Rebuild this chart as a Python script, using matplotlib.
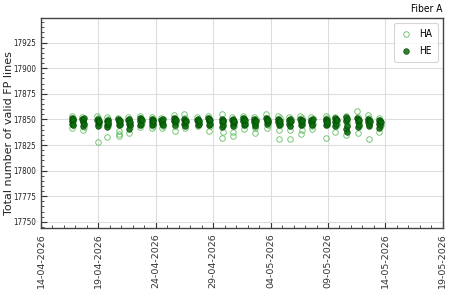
import matplotlib
matplotlib.use("Agg")
import matplotlib.pyplot as plt
import matplotlib.dates as mdates
from matplotlib import font_manager
import pandas as pd

# cluster centre times (one observing block per day)
cluster_times = [
    "2026-04-16 18:00", "2026-04-17 16:20", "2026-04-18 23:45", "2026-04-19 19:10",
    "2026-04-20 19:30", "2026-04-21 16:20", "2026-04-22 16:20", "2026-04-23 17:15",
    "2026-04-24 13:30", "2026-04-25 15:50", "2026-04-26 12:45", "2026-04-27 16:30",
    "2026-04-28 15:35", "2026-04-29 19:25", "2026-04-30 17:45", "2026-05-01 16:30",
    "2026-05-02 15:10", "2026-05-03 16:50", "2026-05-04 17:45", "2026-05-05 16:05",
    "2026-05-06 16:30", "2026-05-07 14:10", "2026-05-08 20:50", "2026-05-09 16:05",
    "2026-05-10 14:40", "2026-05-11 14:55", "2026-05-12 13:10", "2026-05-13 12:00",
]
# hour offsets of the exposures inside each block
exposure_hours = [-2.0, -1.2, -0.4, 0.4, 1.2, 2.0]

he_values = [
    [17851, 17848, 17846, 17849, 17845, 17850],
    [17850, 17847, 17844, 17849, 17846, 17851],
    [17849, 17846, 17844, 17850, 17847, 17848],
    [17848, 17845, 17843, 17849, 17846, 17847],
    [17850, 17847, 17845, 17849, 17846, 17848],
    [17849, 17846, 17841, 17850, 17845, 17847],
    [17851, 17848, 17845, 17850, 17846, 17849],
    [17850, 17847, 17845, 17849, 17846, 17848],
    [17849, 17847, 17846, 17848, 17845, 17850],
    [17851, 17848, 17845, 17850, 17847, 17849],
    [17850, 17846, 17844, 17849, 17847, 17848],
    [17849, 17847, 17845, 17850, 17846, 17848],
    [17851, 17848, 17845, 17850, 17846, 17849],
    [17850, 17847, 17843, 17849, 17845, 17848],
    [17849, 17846, 17844, 17850, 17847, 17848],
    [17851, 17848, 17845, 17850, 17846, 17849],
    [17850, 17847, 17844, 17849, 17846, 17848],
    [17851, 17848, 17846, 17850, 17847, 17849],
    [17850, 17847, 17845, 17849, 17846, 17848],
    [17849, 17846, 17844, 17850, 17847, 17848],
    [17850, 17847, 17845, 17849, 17846, 17848],
    [17849, 17847, 17846, 17848, 17845, 17850],
    [17850, 17848, 17845, 17849, 17846, 17847],
    [17851, 17847, 17844, 17850, 17846, 17849],
    [17852, 17848, 17841, 17850, 17844, 17838],
    [17851, 17847, 17843, 17850, 17845, 17849],
    [17850, 17847, 17844, 17849, 17846, 17848],
    [17849, 17846, 17842, 17848, 17845, 17847],
]
ha_values = [
    [17853, 17849, 17842, 17851, 17845, 17848],
    [17852, 17848, 17840, 17850, 17843, 17846],
    [17853, 17849, 17828, 17851, 17845, 17847],
    [17852, 17848, 17833, 17850, 17844, 17846],
    [17851, 17836, 17834, 17839, 17845, 17849],
    [17852, 17848, 17837, 17850, 17843, 17846],
    [17853, 17849, 17843, 17851, 17845, 17847],
    [17852, 17848, 17842, 17850, 17844, 17846],
    [17851, 17847, 17842, 17850, 17844, 17846],
    [17854, 17849, 17839, 17851, 17844, 17847],
    [17855, 17849, 17842, 17851, 17845, 17847],
    [17852, 17848, 17844, 17850, 17846, 17848],
    [17853, 17848, 17839, 17851, 17844, 17846],
    [17855, 17849, 17832, 17838, 17844, 17847],
    [17852, 17848, 17834, 17838, 17844, 17846],
    [17853, 17849, 17841, 17851, 17845, 17847],
    [17852, 17848, 17837, 17842, 17845, 17850],
    [17855, 17849, 17842, 17851, 17845, 17847],
    [17853, 17849, 17831, 17840, 17845, 17851],
    [17852, 17848, 17831, 17840, 17844, 17850],
    [17853, 17849, 17836, 17840, 17845, 17851],
    [17852, 17848, 17841, 17850, 17844, 17846],
    [17853, 17849, 17832, 17851, 17845, 17847],
    [17852, 17848, 17838, 17850, 17844, 17846],
    [17853, 17849, 17835, 17851, 17845, 17847],
    [17858, 17849, 17837, 17852, 17844, 17847],
    [17854, 17849, 17831, 17851, 17845, 17847],
    [17851, 17847, 17838, 17849, 17843, 17845],
]

x_limits = ("2026-04-14", "2026-05-19")
y_limits = (17744, 17949)

def expand(times, values):
    xs, ys = [], []
    for t, vals in zip(times, values):
        base = pd.Timestamp(t)
        for h, v in zip(exposure_hours, vals):
            xs.append(base + pd.Timedelta(hours=h))
            ys.append(v)
    return xs, ys

ha_x, ha_y = expand(cluster_times, ha_values)
he_x, he_y = expand(cluster_times, he_values)

# narrow font for tick numbers, title and legend
narrow_prop = font_manager.FontProperties(family="DejaVu Sans", stretch="condensed", size=7.3)
ytick_prop = font_manager.FontProperties(family="DejaVu Sans", stretch="condensed", size=5.8)

fig = plt.figure(figsize=(4.5, 3.0), dpi=100)
ax = fig.add_axes([0.091, 0.24, 0.893, 0.70])

ax.plot(ha_x, ha_y, linestyle="none", marker="o", markersize=4.0,
        markerfacecolor="none", markeredgecolor="#55b855", markeredgewidth=0.7,
        alpha=0.8, label="HA")
ax.plot(he_x, he_y, linestyle="none", marker="o", markersize=4.0,
        markerfacecolor="#0b6e0b", markeredgecolor="#064a06", markeredgewidth=0.6,
        alpha=0.85, label="HE")

ax.set_xlim(pd.Timestamp(x_limits[0]), pd.Timestamp(x_limits[1]))
ax.set_ylim(*y_limits)
ax.xaxis.set_major_locator(mdates.DayLocator(bymonthday=[4, 9, 14, 19, 24, 29]))
ax.xaxis.set_major_formatter(mdates.DateFormatter("%d-%m-%Y"))
ax.xaxis.set_minor_locator(mdates.DayLocator())
ax.yaxis.set_major_locator(matplotlib.ticker.MultipleLocator(25))
ax.yaxis.set_minor_locator(matplotlib.ticker.MultipleLocator(5))

ax.grid(True, which="major", color="#dddddd", linewidth=0.8)
ax.set_axisbelow(True)
for s in ax.spines.values():
    s.set_color("#444444")
    s.set_linewidth(1.0)

ax.tick_params(axis="x", which="both", direction="in", labelsize=6.8, rotation=90,
               colors="#333333", labelcolor="#333333")
ax.tick_params(axis="y", which="both", direction="in", colors="#333333",
               labelcolor="#222222", pad=3.5)
ax.tick_params(which="major", length=4)
ax.tick_params(which="minor", length=2)
for lab in ax.get_yticklabels():
    lab.set_fontproperties(ytick_prop)

ax.set_ylabel("Total number of valid FP lines", fontsize=8.0, color="#222222")
ax.yaxis.set_label_coords(-0.066, 0.45)
ax.set_title("Fiber A", loc="right", fontproperties=narrow_prop, pad=4)

leg = ax.legend(loc="upper right", frameon=True, prop=narrow_prop, borderpad=0.6,
                handletextpad=0.6, labelspacing=0.7, handlelength=1.2)
leg.get_frame().set_edgecolor("#cccccc")
leg.get_frame().set_linewidth(0.8)

fig.savefig("out.png", dpi=100)
